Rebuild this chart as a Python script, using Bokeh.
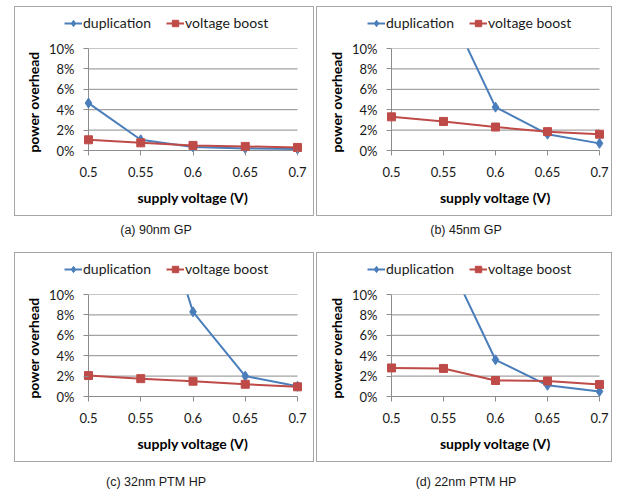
import numpy as np
from bokeh.plotting import figure
from bokeh.models import FixedTicker, Range1d, Div, Legend, LegendItem
from bokeh.layouts import row, column
from bokeh.embed import file_html
from bokeh.resources import INLINE

# ---------------- data ----------------
voltages = [0.5, 0.55, 0.6, 0.65, 0.7]
x_tick_labels = ["0.5", "0.55", "0.6", "0.65", "0.7"]
y_ticks = [0, 2, 4, 6, 8, 10]
y_tick_labels = ["0%", "2%", "4%", "6%", "8%", "10%"]
nan = float("nan")

dup_90 = [4.65, 1.05, 0.35, 0.2, 0.15]
vb_90 = [1.05, 0.75, 0.5, 0.4, 0.3]
dup_45 = [nan, 15.0, 4.25, 1.6, 0.7]
vb_45 = [3.3, 2.85, 2.3, 1.85, 1.6]
dup_32 = [nan, 24.4, 8.3, 2.0, 1.0]
vb_32 = [2.05, 1.75, 1.5, 1.2, 0.95]
dup_22 = [nan, 14.3, 3.6, 1.1, 0.5]
vb_22 = [2.8, 2.75, 1.57, 1.53, 1.18]

series_names = ["duplication", "voltage boost"]
captions = ["(a) 90nm GP", "(b) 45nm GP", "(c) 32nm PTM HP", "(d) 22nm PTM HP"]

BLUE = "#4A7EBB"
RED = "#BE4B48"
GRID = "#8C8C8C"
FONT = "Lato"
BORDER = "1px solid #A6A6A6"


def draw_series(p, dup, vb):
    x = np.array(voltages, dtype=float)
    d = np.array(dup, dtype=float)
    v = np.array(vb, dtype=float)
    r1 = p.line(x, d, line_color=BLUE, line_width=2)
    r2 = p.scatter(x, d, marker="diamond", size=10, fill_color=BLUE, line_color=BLUE)
    r3 = p.line(x, v, line_color=RED, line_width=2)
    r4 = p.scatter(x, v, marker="square", size=8, fill_color=RED, line_color=RED)
    return [r1, r2], [r3, r4]


def panel(dup, vb, W, fl, plot_w, margin):
    # ---- legend strip (its own small figure so the legend is not clipped) ----
    LH = 30
    lf = figure(output_backend="svg", toolbar_location=None,
                frame_width=W, frame_height=LH,
                min_border_left=0, min_border_right=0, min_border_top=0, min_border_bottom=0,
                x_axis_type=None, y_axis_type=None,
                x_range=Range1d(100, 101), y_range=Range1d(100, 101),
                outline_line_color=None, background_fill_color="white",
                border_fill_color="white")
    lf.xgrid.visible = False
    lf.ygrid.visible = False
    g1, g2 = draw_series(lf, dup, vb)
    lg = Legend(items=[LegendItem(label=series_names[0], renderers=g1),
                       LegendItem(label=series_names[1], renderers=g2)],
                orientation="horizontal", location=(fl - 24, 6))
    lg.padding = 0
    lg.margin = 0
    lg.spacing = 15
    lg.glyph_width = 18
    lg.glyph_height = 16
    lg.label_height = 16
    lg.label_standoff = 1
    lg.label_text_font = FONT
    lg.label_text_font_size = "14px"
    lg.label_text_color = "#1a1a1a"
    lg.background_fill_alpha = 0
    lg.border_line_alpha = 0
    lf.add_layout(lg, "center")

    # ---- chart ----
    pad = 5
    top = 11
    ph = 102
    H = 178
    xs = (voltages[-1] - voltages[0]) / plot_w
    ys = (y_ticks[-1] - y_ticks[0]) / ph
    p = figure(output_backend="svg", toolbar_location=None,
               x_range=Range1d(voltages[0] - pad * xs, voltages[-1] + pad * xs),
               y_range=Range1d(y_ticks[0] - pad * ys, y_ticks[-1]),
               frame_width=plot_w + 2 * pad, frame_height=ph + pad,
               min_border_left=fl - pad, min_border_right=W - (fl + plot_w + pad),
               min_border_top=top, min_border_bottom=H - (top + ph + pad),
               outline_line_color=None, background_fill_color="white",
               border_fill_color="white")
    p.xgrid.visible = False
    p.ygrid.visible = False

    n = len(y_ticks)
    p.segment(x0=[voltages[0]] * n, y0=y_ticks, x1=[voltages[-1]] * n, y1=y_ticks,
              line_color=GRID, line_width=1)
    p.segment(x0=[voltages[0]], y0=[y_ticks[0]], x1=[voltages[0]], y1=[y_ticks[-1]],
              line_color=GRID, line_width=1)
    draw_series(p, dup, vb)

    xa = p.xaxis[0]
    xa.ticker = FixedTicker(ticks=voltages)
    xa.major_label_overrides = {vv: t for vv, t in zip(voltages, x_tick_labels)}
    xa.axis_label = "supply voltage (V)"
    ya = p.yaxis[0]
    ya.ticker = FixedTicker(ticks=y_ticks)
    ya.major_label_overrides = {vv: t for vv, t in zip(y_ticks, y_tick_labels)}
    ya.axis_label = "power overhead"
    for ax in (xa, ya):
        ax.axis_line_color = None
        ax.major_tick_in = 5
        ax.major_tick_out = 0
        ax.major_tick_line_color = GRID
        ax.minor_tick_line_color = None
        ax.major_label_text_font = FONT
        ax.major_label_text_font_size = "13px"
        ax.major_label_text_color = "#1a1a1a"
        ax.axis_label_text_font = FONT
        ax.axis_label_text_font_size = "14px"
        ax.axis_label_text_font_style = "bold"
        ax.axis_label_text_color = "#000000"
    xa.major_label_standoff = 11
    xa.axis_label_standoff = 9
    ya.major_label_standoff = 9
    ya.axis_label_standoff = 4

    box = column(lf, p, margin=margin)
    box.styles = {"border": BORDER}
    return box


def caption(text, width, height, pad_top, shift, margin):
    html = ('<div style="width:%dpx;text-align:center;font-family:\'Liberation Sans\';'
            'font-size:12.5px;line-height:15px;padding-top:%dpx;color:#1a1a1a;'
            'margin-left:%dpx;">%s</div>') % (width, pad_top, shift, text)
    return Div(text=html, width=width, height=height, margin=margin)


pa = panel(dup_90, vb_90, 298, 73, 209, (6, 0, 0, 14))
pb = panel(dup_45, vb_45, 294, 74, 208, (6, 0, 0, 2))
pc = panel(dup_32, vb_32, 298, 73, 209, (0, 0, 0, 14))
pd = panel(dup_22, vb_22, 294, 74, 208, (0, 0, 0, 2))

ca = caption(captions[0], 300, 36, 7, -8, (0, 0, 0, 14))
cb = caption(captions[1], 296, 36, 7, 2, (0, 0, 0, 2))
cc = caption(captions[2], 300, 33, 13, -8, (0, 0, 0, 14))
cd = caption(captions[3], 296, 33, 13, 2, (0, 0, 0, 2))

layout = column(row(pa, pb), row(ca, cb), row(pc, pd), row(cc, cd))

open("out.html", "w").write(file_html(layout, INLINE))
